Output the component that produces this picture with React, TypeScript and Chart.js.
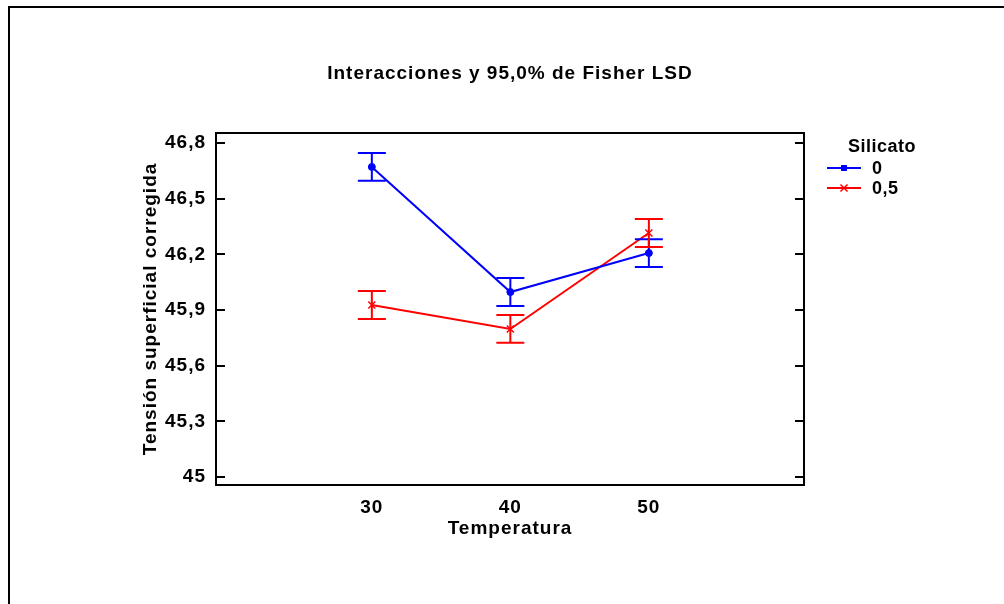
import React, { useEffect, useRef } from 'react';
import { Chart, registerables } from 'chart.js';

Chart.register(...registerables);

// ---- data ----
const temperatures = [30, 40, 50];
const silicatoLabels = ['0', '0,5'];
const tension0 = [46.671, 45.997, 46.207];
const tension05 = [45.927, 45.798, 46.315];
const lsd0 = [0.075, 0.075, 0.075];
const lsd05 = [0.075, 0.075, 0.075];
const yTickValues = [45, 45.3, 45.6, 45.9, 46.2, 46.5, 46.8];
const yTickLabels = ['45', '45,3', '45,6', '45,9', '46,2', '46,5', '46,8'];
const xTickValues = [30, 40, 50];
const xTickLabels = ['30', '40', '50'];
const chartTitle = 'Interacciones y 95,0% de Fisher LSD';
const xTitle = 'Temperatura';
const yTitle = 'Tensión superficial corregida';
const legendTitle = 'Silicato';

const FAMILY = "'Liberation Sans', Arial, sans-serif";
const SPACING = '1px';
const FSIZE = 19;

const findIdx = (arr: number[], v: number) => arr.findIndex((t) => Math.abs(t - v) < 1e-6);

const spacingPlugin = {
  id: 'spacing',
  beforeUpdate(chart: any) {
    chart.ctx.letterSpacing = SPACING;
  },
  beforeDraw(chart: any) {
    chart.ctx.letterSpacing = SPACING;
  },
};

const errorBarPlugin = {
  id: 'errorBars',
  afterDatasetsDraw(chart: any) {
    const ctx = chart.ctx;
    const yScale = chart.scales.y;
    chart.data.datasets.forEach((ds: any, i: number) => {
      const meta = chart.getDatasetMeta(i);
      ctx.save();
      ctx.strokeStyle = ds.borderColor;
      ctx.lineWidth = 2;
      meta.data.forEach((pt: any, j: number) => {
        const v = ds.data[j].y;
        const e = ds.errors[j];
        const yT = yScale.getPixelForValue(v + e);
        const yB = yScale.getPixelForValue(v - e);
        const x = pt.x;
        ctx.beginPath();
        ctx.moveTo(x, yT);
        ctx.lineTo(x, yB);
        ctx.moveTo(x - 14, yT);
        ctx.lineTo(x + 14, yT);
        ctx.moveTo(x - 14, yB);
        ctx.lineTo(x + 14, yB);
        ctx.stroke();
      });
      ctx.restore();
    });
  },
};

function drawMarker(ctx: CanvasRenderingContext2D, style: string, x: number, y: number, r: number, color: string) {
  ctx.save();
  ctx.strokeStyle = color;
  ctx.fillStyle = color;
  ctx.lineWidth = 1.5;
  if (style === 'circle') {
    ctx.fillRect(x - 3, y - 3, 6, 6);
  } else {
    const d = r * Math.SQRT1_2;
    ctx.beginPath();
    ctx.moveTo(x - d, y - d);
    ctx.lineTo(x + d, y + d);
    ctx.moveTo(x - d, y + d);
    ctx.lineTo(x + d, y - d);
    ctx.stroke();
  }
  ctx.restore();
}

const framePlugin = {
  id: 'frame',
  afterDraw(chart: any) {
    const ctx = chart.ctx;
    const { left, right, top, bottom } = chart.chartArea;
    const yScale = chart.scales.y;
    ctx.save();
    ctx.letterSpacing = SPACING;
    ctx.strokeStyle = '#000';
    ctx.lineWidth = 2;
    ctx.strokeRect(left, top, right - left, bottom - top);
    ctx.beginPath();
    yScale.ticks.forEach((t: any) => {
      const y = Math.round(yScale.getPixelForValue(t.value));
      ctx.moveTo(left, y);
      ctx.lineTo(left + 9, y);
      ctx.moveTo(right, y);
      ctx.lineTo(right - 9, y);
    });
    ctx.stroke();

    // title
    ctx.fillStyle = '#000';
    ctx.font = `bold ${FSIZE}px ${FAMILY}`;
    ctx.textAlign = 'center';
    ctx.textBaseline = 'middle';
    ctx.fillText(chartTitle, (left + right) / 2, 74);

    // legend
    ctx.textAlign = 'left';
    ctx.font = `bold 18px ${FAMILY}`;
    ctx.letterSpacing = '0.5px';
    ctx.fillText(legendTitle, 848, 147);
    const rows = [168, 188];
    chart.data.datasets.forEach((ds: any, i: number) => {
      const y = rows[i];
      ctx.strokeStyle = ds.borderColor;
      ctx.lineWidth = 2;
      ctx.beginPath();
      ctx.moveTo(827, y);
      ctx.lineTo(861, y);
      ctx.stroke();
      drawMarker(ctx, ds.pointStyle, 844, y, ds.pointRadius, ds.borderColor);
      ctx.fillStyle = '#000';
      ctx.fillText(ds.label, 872, y + 1);
    });
    ctx.restore();
  },
};

export default function App() {
  const ref = useRef<HTMLCanvasElement | null>(null);

  useEffect(() => {
    if (!ref.current) return;
    const font = { family: FAMILY, size: FSIZE, weight: 'bold' as const };
    const chart = new Chart(ref.current, {
      type: 'line',
      data: {
        datasets: [
          {
            label: silicatoLabels[0],
            data: temperatures.map((t, i) => ({ x: t, y: tension0[i] })),
            errors: lsd0,
            borderColor: '#0000ff',
            backgroundColor: '#0000ff',
            borderWidth: 2,
            pointStyle: 'circle',
            pointRadius: 3.5,
            pointBorderWidth: 1,
            tension: 0,
          } as any,
          {
            label: silicatoLabels[1],
            data: temperatures.map((t, i) => ({ x: t, y: tension05[i] })),
            errors: lsd05,
            borderColor: '#ff0000',
            backgroundColor: '#ff0000',
            borderWidth: 2,
            pointStyle: 'crossRot',
            pointRadius: 5,
            pointBorderWidth: 1.5,
            tension: 0,
          } as any,
        ],
      },
      options: {
        responsive: false,
        animation: false,
        layout: { padding: { top: 133, right: 200, left: 0, bottom: 0 } },
        plugins: {
          legend: { display: false },
          title: { display: false },
          tooltip: { enabled: false },
        },
        scales: {
          x: {
            type: 'linear',
            min: 18.75,
            max: 61.2,
            grid: { display: false, drawTicks: false },
            border: { display: false },
            afterBuildTicks: (s: any) => {
              s.ticks = xTickValues.map((v) => ({ value: v }));
            },
            afterFit: (s: any) => {
              s.height = 119;
            },
            ticks: {
              font,
              color: '#000',
              padding: 11,
              maxRotation: 0,
              autoSkip: false,
              callback: (v: any) => {
                const k = findIdx(xTickValues, Number(v));
                return k >= 0 ? xTickLabels[k] : '';
              },
            },
            title: { display: true, text: xTitle, font, color: '#000', padding: { top: 0, bottom: 64 } },
          },
          y: {
            type: 'linear',
            min: 44.957,
            max: 46.854,
            grid: { display: false, drawTicks: false },
            border: { display: false },
            afterBuildTicks: (s: any) => {
              s.ticks = yTickValues.map((v) => ({ value: v }));
            },
            afterFit: (s: any) => {
              s.width = 216;
            },
            ticks: {
              font,
              color: '#000',
              padding: 10,
              autoSkip: false,
              callback: (v: any) => {
                const k = findIdx(yTickValues, Number(v));
                return k >= 0 ? yTickLabels[k] : '';
              },
            },
            title: { display: true, text: yTitle, font, color: '#000', padding: { top: 139, bottom: 0 } },
          },
        },
      },
      plugins: [spacingPlugin, errorBarPlugin, framePlugin],
    });
    return () => chart.destroy();
  }, []);

  return (
    <div style={{ position: 'relative', width: 1004, height: 604, overflow: 'hidden', background: '#fff' }}>
      <style>{'html,body{margin:0;padding:0;overflow:hidden;background:#fff}'}</style>
      <div
        style={{
          position: 'absolute',
          left: 8,
          top: 6,
          width: 1100,
          height: 700,
          borderLeft: '2px solid #000',
          borderTop: '2px solid #000',
          boxSizing: 'border-box',
        }}
      />
      <canvas ref={ref} width={1004} height={604} style={{ position: 'absolute', left: 0, top: 0 }} />
    </div>
  );
}
